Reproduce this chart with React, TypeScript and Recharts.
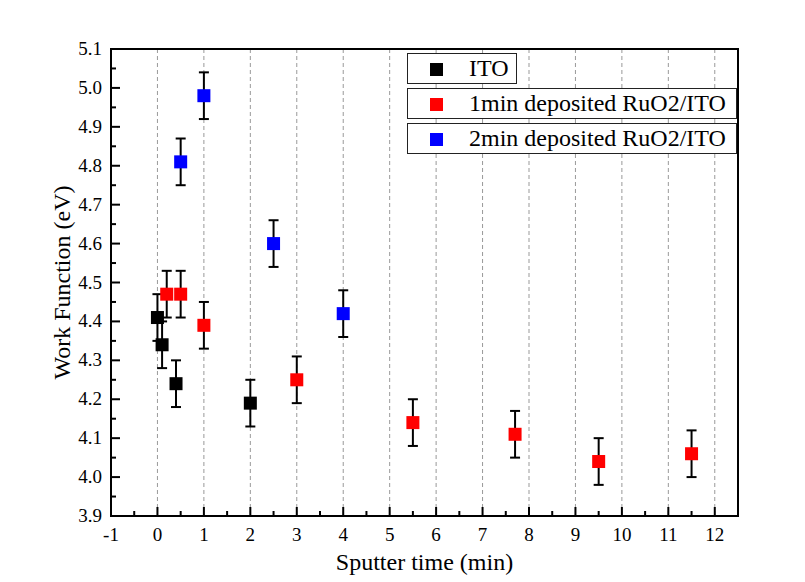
import {
  ErrorBar,
  Legend,
  ReferenceArea,
  Scatter,
  ScatterChart,
  CartesianGrid,
  XAxis,
  YAxis,
  Label,
} from "recharts";

const itoTime = [0, 0.1, 0.4, 2];
const itoWf = [4.41, 4.34, 4.24, 4.19];
const itoErr = [0.06, 0.06, 0.06, 0.06];

const ru1Time = [0.2, 0.5, 1, 3, 5.5, 7.7, 9.5, 11.5];
const ru1Wf = [4.47, 4.47, 4.39, 4.25, 4.14, 4.11, 4.04, 4.06];
const ru1Err = [0.06, 0.06, 0.06, 0.06, 0.06, 0.06, 0.06, 0.06];

const ru2Time = [0.5, 1, 2.5, 4];
const ru2Wf = [4.81, 4.98, 4.6, 4.42];
const ru2Err = [0.06, 0.06, 0.06, 0.06];

const seriesNames = ["ITO", "1min deposited RuO2/ITO", "2min deposited RuO2/ITO"];

const xMajor = [-1, 0, 1, 2, 3, 4, 5, 6, 7, 8, 9, 10, 11, 12];
const xMinor = [-0.5, 0.5, 1.5, 2.5, 3.5, 4.5, 5.5, 6.5, 7.5, 8.5, 9.5, 10.5, 11.5];
const yMajor = [3.9, 4.0, 4.1, 4.2, 4.3, 4.4, 4.5, 4.6, 4.7, 4.8, 4.9, 5.0, 5.1];
const yMinor = [3.95, 4.05, 4.15, 4.25, 4.35, 4.45, 4.55, 4.65, 4.75, 4.85, 4.95, 5.05];

const FONT = "'Liberation Serif', 'Times New Roman', serif";

const toPoints = (xs: number[], ys: number[], es: number[]) =>
  xs.map((x, i) => ({ x, y: ys[i], err: es[i] }));

const itoData = toPoints(itoTime, itoWf, itoErr);
const ru1Data = toPoints(ru1Time, ru1Wf, ru1Err);
const ru2Data = toPoints(ru2Time, ru2Wf, ru2Err);

const SquareDot = (props: any) => {
  const { cx, cy, fill } = props;
  if (cx == null || cy == null) return null;
  return <rect x={cx - 6.5} y={cy - 6.5} width={13} height={13} fill={fill} />;
};

const XTick = (props: any) => {
  const { x, y, payload } = props;
  const major = xMajor.includes(payload.value);
  return (
    <g>
      <line x1={x} x2={x} y1={y} y2={y - (major ? 9 : 5)} stroke="#000" strokeWidth={2} />
      {major && (
        <text x={x} y={y + 25} textAnchor="middle" fontSize={19} fontFamily={FONT} fill="#000">
          {payload.value}
        </text>
      )}
    </g>
  );
};

const YTick = (props: any) => {
  const { x, y, payload } = props;
  const major = yMajor.some((v) => Math.abs(v - payload.value) < 1e-6);
  return (
    <g>
      <line x1={x} x2={x + (major ? 9 : 5)} y1={y} y2={y} stroke="#000" strokeWidth={2} />
      {major && (
        <text x={x - 9} y={y + 6} textAnchor="end" fontSize={19} fontFamily={FONT} fill="#000">
          {payload.value.toFixed(1)}
        </text>
      )}
    </g>
  );
};

const renderLegend = (props: any) => {
  const items = [...(props.payload || [])].sort(
    (a: any, b: any) => seriesNames.indexOf(a.value) - seriesNames.indexOf(b.value)
  );
  const widths = [110, 330, 330];
  return (
    <div style={{ fontFamily: FONT, fontSize: 24, color: "#000" }}>
      {items.map((item: any, i: number) => (
        <div
          key={item.value}
          style={{
            position: "relative",
            boxSizing: "border-box",
            width: widths[i],
            height: 31,
            marginBottom: 4,
            border: "1px solid #222",
            background: "#fff",
          }}
        >
          <span
            style={{
              position: "absolute",
              left: 22,
              top: 9,
              width: 13,
              height: 13,
              background: item.color,
            }}
          />
          <span style={{ position: "absolute", left: 61, top: 0, lineHeight: "29px", whiteSpace: "nowrap" }}>
            {item.value}
          </span>
        </div>
      ))}
    </div>
  );
};

export default function App() {
  return (
    <div style={{ position: "absolute", left: 0, top: 0, background: "#fff" }}>
      <ScatterChart width={805} height={582} margin={{ top: 49, right: 67, bottom: 6, left: 31 }}>
        <CartesianGrid
          horizontal={false}
          verticalValues={xMajor.slice(1)}
          stroke="#999"
          strokeDasharray="4 3"
        />
        <XAxis
          type="number"
          dataKey="x"
          domain={[-1, 12.5]}
          ticks={[...xMajor, ...xMinor].sort((a, b) => a - b)}
          interval={0}
          allowDataOverflow
          axisLine={false}
          tickLine={false}
          tickSize={0}
          tickMargin={0}
          tick={<XTick />}
          height={60}
        >
          <Label
            value="Sputter time (min)"
            position="insideBottom"
            offset={6}
            style={{ fontFamily: FONT, fontSize: 24, fill: "#000" }}
          />
        </XAxis>
        <YAxis
          type="number"
          dataKey="y"
          domain={[3.9, 5.1]}
          ticks={[...yMajor, ...yMinor].sort((a, b) => a - b)}
          interval={0}
          allowDataOverflow
          axisLine={false}
          tickLine={false}
          tickSize={0}
          tickMargin={0}
          tick={<YTick />}
          width={80}
        >
          <Label
            value="Work Function (eV)"
            angle={-90}
            position="insideLeft"
            offset={30}
            style={{ fontFamily: FONT, fontSize: 24, fill: "#000", textAnchor: "middle" }}
          />
        </YAxis>
        <ReferenceArea
          x1={-1}
          x2={12.5}
          y1={3.9}
          y2={5.1}
          fill="none"
          stroke="#000"
          strokeWidth={2}
          fillOpacity={0}
          ifOverflow="visible"
        />
        <Legend
          content={renderLegend}
          layout="horizontal"
          verticalAlign="middle"
          align="center"
          wrapperStyle={{ position: "absolute", top: 53, left: 407, width: "auto" }}
        />
        <Scatter name={seriesNames[0]} data={itoData} fill="#000000" shape={<SquareDot />} isAnimationActive={false}>
          <ErrorBar dataKey="err" direction="y" width={5} stroke="#000" strokeWidth={2} />
        </Scatter>
        <Scatter name={seriesNames[1]} data={ru1Data} fill="#ff0000" shape={<SquareDot />} isAnimationActive={false}>
          <ErrorBar dataKey="err" direction="y" width={5} stroke="#000" strokeWidth={2} />
        </Scatter>
        <Scatter name={seriesNames[2]} data={ru2Data} fill="#0000ff" shape={<SquareDot />} isAnimationActive={false}>
          <ErrorBar dataKey="err" direction="y" width={5} stroke="#000" strokeWidth={2} />
        </Scatter>
      </ScatterChart>
    </div>
  );
}
